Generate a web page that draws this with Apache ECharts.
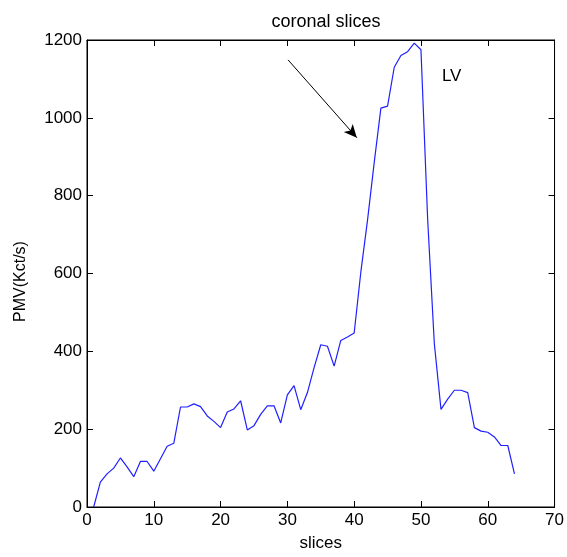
<!DOCTYPE html>
<html>
<head>
<meta charset="utf-8">
<script src="https://cdn.jsdelivr.net/npm/echarts@6/dist/echarts.min.js"></script>
<style>
html,body{margin:0;padding:0;background:#fff;}
#chart{width:567px;height:557px;}
</style>
</head>
<body>
<div id="chart"></div>
<script>
var slices = [1,2,3,4,5,6,7,8,9,10,11,12,13,14,15,16,17,18,19,20,21,22,23,24,25,26,27,28,29,30,31,32,
    33,34,35,36,37,38,39,40,41,42,43,44,45,46,47,48,49,50,51,52,53,54,55,56,57,58,59,60,61,62,63,64];
var pmv = [0,64,85,100,126,103,78,117,117,92,124,156,164,257,257,265,258,234,220,204,244,252,273,198,
    209,238,260,260,216,288,312,250,294,358,417,413,362,428,437,447,604,737,885,1025,1030,1130,1160,
    1170,1192,1175,740,420,251,277,300,300,294,204,195,192,180,158,158,85];
var xTicks = [0,10,20,30,40,50,60,70];
var yTicks = [0,200,400,600,800,1000,1200];
var arrowFrom = [30.1,1149];
var arrowTo = [40.4,949];
var lvPos = [54.6,1106];

var fontName = 'Liberation Sans, Arial, sans-serif';

function makeLine(){
    var pts = [];
    for(var i=0;i<slices.length;i++){
        pts.push([slices[i],pmv[i]]);
    }
    return pts;
}

// every axis gets its own style objects
function axisLineStyle(){
    return {show:true,onZero:false,lineStyle:{color:'#000',width:1}};
}
function tickStyle(){
    return {show:true,inside:true,length:6,lineStyle:{color:'#000',width:1}};
}
function labelStyle(show){
    if(!show){
        return {show:false};
    }
    return {show:true,fontFamily:fontName,fontSize:17,color:'#000',margin:5,
        formatter:function(v){return String(v);}};
}
function xAxisOf(pos,showLabel){
    var ax = {
        type:'value',min:xTicks[0],max:xTicks[xTicks.length-1],interval:10,
        position:pos,
        axisLine:axisLineStyle(),axisTick:tickStyle(),axisLabel:labelStyle(showLabel),
        splitLine:{show:false}
    };
    if(showLabel){
        ax.name = 'slices';
        ax.nameLocation = 'middle';
        ax.nameGap = 28;
        ax.nameTextStyle = {fontFamily:fontName,fontSize:17,color:'#000'};
    }
    return ax;
}
function yAxisOf(pos,showLabel){
    var ax = {
        type:'value',min:yTicks[0],max:yTicks[yTicks.length-1],interval:200,
        position:pos,
        axisLine:axisLineStyle(),axisTick:tickStyle(),axisLabel:labelStyle(showLabel),
        splitLine:{show:false}
    };
    if(showLabel){
        ax.name = 'PMV(Kct/s)';
        ax.nameLocation = 'middle';
        ax.nameGap = 58;
        ax.nameTextStyle = {fontFamily:fontName,fontSize:16,color:'#000',padding:[0,16,0,0]};
    }
    return ax;
}

var chart = echarts.init(document.getElementById('chart'));
var option = {
    animation:false,
    backgroundColor:'#fff',
    title:{
        text:'coronal slices',
        left:321,
        top:8,
        textAlign:'center',
        textStyle:{fontFamily:fontName,fontSize:18,fontWeight:'normal',color:'#000'}
    },
    grid:{left:87,right:10,top:40,bottom:45,show:true,borderColor:'#000',borderWidth:1,backgroundColor:'#fff'},
    xAxis:[xAxisOf('bottom',true),xAxisOf('top',false)],
    yAxis:[yAxisOf('left',true),yAxisOf('right',false)],
    series:[
        {
            type:'line',
            data:makeLine(),
            symbol:'none',
            lineStyle:{color:'#2020ff',width:1.2},
            markLine:{
                silent:true,
                symbol:['none','arrow'],
                symbolSize:[9,13],
                label:{show:false},
                lineStyle:{color:'#000',width:1,type:'solid'},
                data:[[{coord:arrowFrom},{coord:arrowTo}]]
            },
            markPoint:{
                silent:true,
                symbol:'circle',
                symbolSize:0,
                label:{show:true,formatter:'LV',position:'inside',fontFamily:fontName,fontSize:17,color:'#000'},
                data:[{coord:lvPos}]
            }
        }
    ]
};
chart.setOption(option);
</script>
</body>
</html>
